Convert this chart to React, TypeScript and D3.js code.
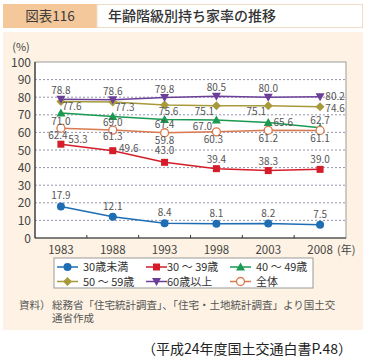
import React from "react";
import * as d3 from "d3";

const years = ["1983", "1988", "1993", "1998", "2003", "2008"];
const under30 = [17.9, 12.1, 8.4, 8.1, 8.2, 7.5];
const age30s = [53.3, 49.6, 43.0, 39.4, 38.3, 39.0];
const age40s = [71.0, 69.0, 67.4, 67.0, 65.6, 62.7];
const age50s = [77.6, 77.3, 75.6, 75.1, 75.1, 74.6];
const over60 = [78.8, 78.6, 79.8, 80.5, 80.0, 80.2];
const total = [62.4, 61.3, 59.8, 60.3, 61.2, 61.1];
const yTicks = [0, 10, 20, 30, 40, 50, 60, 70, 80, 90, 100];

type Off = [number, number];
const seriesList = [
  { name: "30歳未満", values: under30, color: "#1f6db3", shape: "circle",
    offs: [[0, -7], [0, -7], [0, -7], [0, -7], [0, -7], [0, -7]] as Off[] },
  { name: "30～39歳", values: age30s, color: "#d51d2a", shape: "square",
    offs: [[17, -1], [16, 1], [0, -8], [0, -6], [0, -6], [0, -6]] as Off[] },
  { name: "40～49歳", values: age40s, color: "#1a9a50", shape: "triangle",
    offs: [[0, 12], [0, 9], [0, 9], [-14, 10], [15, 3], [0, -4]] as Off[] },
  { name: "50～59歳", values: age50s, color: "#a89a3a", shape: "diamond",
    offs: [[11, 9], [12, 9], [4, 10], [-12, 9], [-12, 9], [15, 5]] as Off[] },
  { name: "60歳以上", values: over60, color: "#6b3f98", shape: "down",
    offs: [[0, -5], [0, -5], [0, -5], [0, -5], [0, -5], [15, 3]] as Off[] },
  { name: "全体", values: total, color: "#d9794f", shape: "open",
    offs: [[-3, 11], [0, 10], [0, 11], [-3, 11], [0, 12], [0, 12]] as Off[] },
];

const FONT = "'Noto Sans CJK JP', 'Noto Sans', sans-serif";

function Marker({ shape, color, x, y }: { shape: string; color: string; x: number; y: number }) {
  if (shape === "circle") return <circle cx={x} cy={y} r={4} fill={color} />;
  if (shape === "open") return <circle cx={x} cy={y} r={4} fill="#fff" stroke={color} strokeWidth={1.3} />;
  if (shape === "square") return <rect x={x - 3.5} y={y - 3.5} width={7} height={7} fill={color} />;
  if (shape === "triangle") return <path d={`M${x},${y - 4.5}L${x + 4.5},${y + 3.5}L${x - 4.5},${y + 3.5}Z`} fill={color} />;
  if (shape === "down") return <path d={`M${x},${y + 4.5}L${x + 4.5},${y - 3.5}L${x - 4.5},${y - 3.5}Z`} fill={color} />;
  return <path d={`M${x},${y - 4.5}L${x + 4.5},${y}L${x},${y + 4.5}L${x - 4.5},${y}Z`} fill={color} />;
}

export default function App() {
  const W = 367, H = 358;
  const left = 35, right = 346, top = 62, bottom = 238;
  const x = d3.scalePoint<string>().domain(years).range([left, right]).padding(0.5);
  const y = d3.scaleLinear().domain([0, 100]).range([bottom, top]);
  const step = x.step();
  const line = d3.line<number>().x((_, i) => x(years[i]) as number).y((v) => y(v));

  const legendCols = [57, 146, 230];
  const legendText = [83, 167, 256];
  const legendRows = [267, 281.5];

  return (
    <svg width={W} height={H} style={{ position: "absolute", left: 0, top: 0, fontFamily: FONT }}>
      <rect x={0} y={0} width={W} height={H} fill="#fff" />
      {/* header */}
      <rect x={3} y={4} width={94} height={24} fill="#f5c89c" />
      <rect x={97} y={4.5} width={265.5} height={23} fill="#fff" stroke="#f0dcc4" />
      <text x={50} y={21} textAnchor="middle" fontSize={13.5} fill="#3a3a3a">図表116</text>
      <text x={108} y={21} fontSize={14} fill="#333" fontWeight={500}>年齢階級別持ち家率の推移</text>
      {/* cream panel */}
      <rect x={3} y={32} width={360} height={298} fill="#fdf2e3" />
      {/* plot area */}
      <rect x={left} y={top} width={right - left} height={bottom - top} fill="#fff" stroke="#9a9a9a" strokeWidth={1} />
      {yTicks.filter((t) => t > 0 && t < 100).map((t) => (
        <line key={t} x1={left} x2={right} y1={y(t)} y2={y(t)} stroke="#7a7a9a" strokeWidth={0.8} strokeDasharray="2,2" />
      ))}
      <line x1={left} x2={left} y1={top} y2={bottom} stroke="#333" strokeWidth={1.2} />
      <line x1={left} x2={right} y1={bottom} y2={bottom} stroke="#333" strokeWidth={1.2} />
      {years.slice(1).map((yr) => (
        <line key={yr} x1={(x(yr) as number) - step / 2} x2={(x(yr) as number) - step / 2} y1={bottom} y2={bottom - 3} stroke="#333" />
      ))}
      {yTicks.map((t) => (
        <text key={t} x={31} y={y(t) + 4.5} textAnchor="end" fontSize={12} fill="#444">{t}</text>
      ))}
      <text x={21} y={51} textAnchor="middle" fontSize={11} fill="#444">(%)</text>
      {years.map((yr) => (
        <text key={yr} x={x(yr) as number} y={254} textAnchor="middle" fontSize={11.5} fill="#444">{yr}</text>
      ))}
      <text x={337} y={254} fontSize={11} fill="#444">(年)</text>
      {/* lines */}
      {seriesList.map((s) => (
        <path key={s.name} d={line(s.values) as string} fill="none" stroke={s.color} strokeWidth={1.5} />
      ))}
      {seriesList.map((s) =>
        s.values.map((v, i) => (
          <Marker key={s.name + i} shape={s.shape} color={s.color} x={x(years[i]) as number} y={y(v)} />
        ))
      )}
      {seriesList.map((s) =>
        s.values.map((v, i) => (
          <text key={"l" + s.name + i} x={(x(years[i]) as number) + s.offs[i][0]} y={y(v) + s.offs[i][1]}
            textAnchor="middle" fontSize={10} fill="#555">{v.toFixed(1)}</text>
        ))
      )}
      {/* legend */}
      <rect x={54} y={258} width={259} height={30} fill="#fff" stroke="#999" />
      {seriesList.map((s, i) => {
        const col = i % 3, row = Math.floor(i / 3);
        const lx = legendCols[col], ly = legendRows[row];
        return (
          <g key={"lg" + s.name}>
            <line x1={lx} x2={lx + 21} y1={ly} y2={ly} stroke={s.color} strokeWidth={1.5} />
            <Marker shape={s.shape} color={s.color} x={lx + 10.5} y={ly} />
            <text x={legendText[col]} y={ly + 4} fontSize={11} fill="#333">{s.name.replace("～", " ～ ")}</text>
          </g>
        );
      })}
      {/* source */}
      <text x={19} y={309} fontSize={10.5} fill="#555">資料）</text>
      <text x={52} y={309} fontSize={10.5} fill="#555">総務省「住宅統計調査」、「住宅・土地統計調査」より国土交</text>
      <text x={52} y={322} fontSize={10.5} fill="#555">通省作成</text>
      <text x={352} y={354} textAnchor="end" fontSize={14} fill="#222">（平成24年度国土交通白書P.48）</text>
    </svg>
  );
}
